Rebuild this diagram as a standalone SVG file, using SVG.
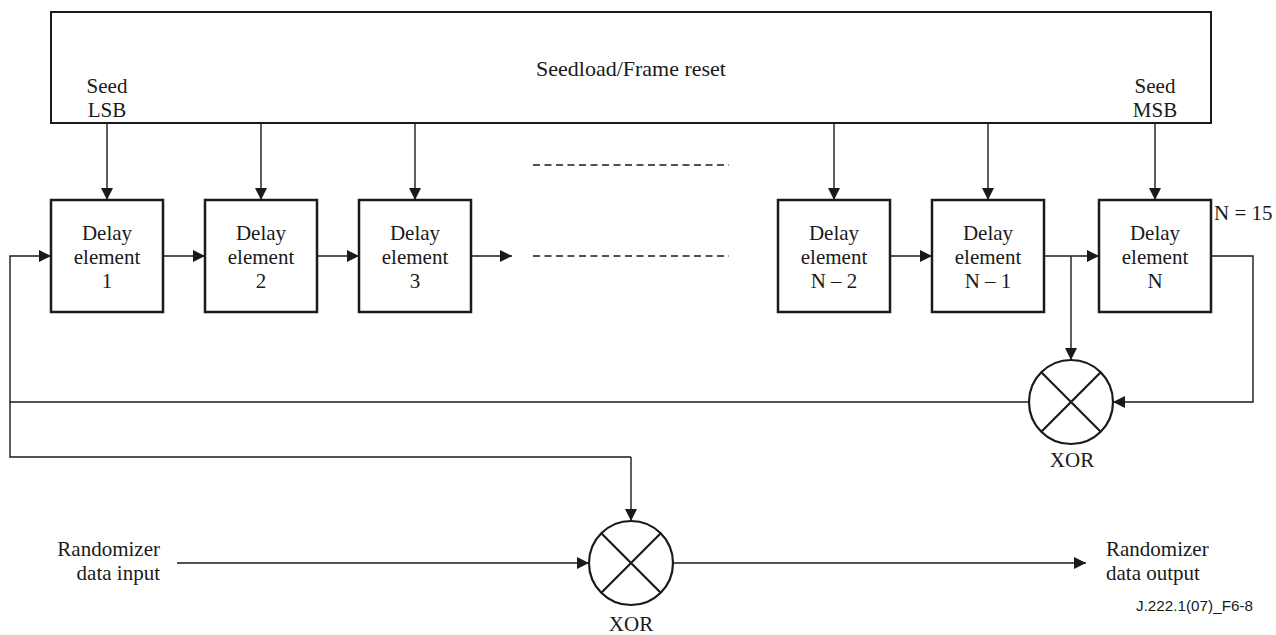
<svg xmlns="http://www.w3.org/2000/svg" width="1276" height="635" viewBox="0 0 1276 635">
<style>
.t{font-family:"Liberation Serif","Times New Roman",serif;font-size:21px;fill:#1a1a1a;text-anchor:middle}
.box{fill:none;stroke:#1a1a1a;stroke-width:2.5}
.top{fill:none;stroke:#1a1a1a;stroke-width:2}
.c{fill:none;stroke:#1a1a1a;stroke-width:1.4}
.a{fill:none;stroke:#1a1a1a;stroke-width:1.4;marker-end:url(#ah)}
.d{fill:none;stroke:#1a1a1a;stroke-width:1.3;stroke-dasharray:7 4.5}
.x{fill:none;stroke:#1a1a1a;stroke-width:2.2}
</style>
<defs>
<marker id="ah" viewBox="0 0 12 12" refX="12" refY="6" markerWidth="12" markerHeight="12" markerUnits="userSpaceOnUse" orient="auto">
<path d="M0,0 L12,6 L0,12 Z" fill="#1a1a1a"/>
</marker>
</defs>
<rect width="1276" height="635" fill="#fff"/>

<g id="seedload">
<rect class="top" x="51" y="12" width="1160" height="111"/>
<text class="t" x="631" y="76" style="font-size:22px">Seedload/Frame reset</text>
<text class="t" x="107" y="93">Seed</text>
<text class="t" x="107" y="117">LSB</text>
<text class="t" x="1155" y="93">Seed</text>
<text class="t" x="1155" y="117">MSB</text>
</g>

<g id="delay1">
<rect class="box" x="51" y="200" width="112" height="112"/>
<text class="t" x="107" y="240">Delay</text>
<text class="t" x="107" y="264">element</text>
<text class="t" x="107" y="288">1</text>
</g>
<g id="delay2">
<rect class="box" x="205" y="200" width="112" height="112"/>
<text class="t" x="261" y="240">Delay</text>
<text class="t" x="261" y="264">element</text>
<text class="t" x="261" y="288">2</text>
</g>
<g id="delay3">
<rect class="box" x="359" y="200" width="112" height="112"/>
<text class="t" x="415" y="240">Delay</text>
<text class="t" x="415" y="264">element</text>
<text class="t" x="415" y="288">3</text>
</g>
<g id="delayN2">
<rect class="box" x="778" y="200" width="112" height="112"/>
<text class="t" x="834" y="240">Delay</text>
<text class="t" x="834" y="264">element</text>
<text class="t" x="834" y="288">N – 2</text>
</g>
<g id="delayN1">
<rect class="box" x="932" y="200" width="112" height="112"/>
<text class="t" x="988" y="240">Delay</text>
<text class="t" x="988" y="264">element</text>
<text class="t" x="988" y="288">N – 1</text>
</g>
<g id="delayN">
<rect class="box" x="1099" y="200" width="112" height="112"/>
<text class="t" x="1155" y="240">Delay</text>
<text class="t" x="1155" y="264">element</text>
<text class="t" x="1155" y="288">N</text>
<text class="t" x="1214" y="220" style="text-anchor:start">N = 15</text>
</g>

<g id="xor1">
<circle class="x" cx="1071" cy="402" r="42"/>
<path class="x" d="M1041.3,372.3 L1100.7,431.7 M1100.7,372.3 L1041.3,431.7"/>
<text class="t" x="1072" y="467">XOR</text>
</g>
<g id="xor2">
<circle class="x" cx="631" cy="563" r="42"/>
<path class="x" d="M601.3,533.3 L660.7,592.7 M660.7,533.3 L601.3,592.7"/>
<text class="t" x="631" y="631">XOR</text>
</g>

<g id="io">
<text class="t" x="160" y="556" style="text-anchor:end">Randomizer</text>
<text class="t" x="160" y="580" style="text-anchor:end">data input</text>
<text class="t" x="1106" y="556" style="text-anchor:start">Randomizer</text>
<text class="t" x="1106" y="580" style="text-anchor:start">data output</text>
<text x="1136" y="611" textLength="117" lengthAdjust="spacingAndGlyphs" style="font-family:'Liberation Sans',Arial,sans-serif;font-size:15px;fill:#1a1a1a">J.222.1(07)_F6-8</text>
</g>

<g id="connectors">
<path class="a" d="M107,123 V200"/>
<path class="a" d="M261,123 V200"/>
<path class="a" d="M415,123 V200"/>
<path class="a" d="M834,123 V200"/>
<path class="a" d="M988,123 V200"/>
<path class="a" d="M1155,123 V200"/>
<path class="a" d="M163,256 H205"/>
<path class="a" d="M317,256 H359"/>
<path class="a" d="M471,256 H512"/>
<path class="a" d="M890,256 H932"/>
<path class="a" d="M1044,256 H1099"/>
<path class="d" d="M533,165 H729"/>
<path class="d" d="M533,256 H729"/>
<path class="a" d="M1071,256 V360"/>
<path class="a" d="M1211,256 H1253 V402 H1113"/>
<path class="c" d="M1029,402 H10"/>
<path class="a" d="M631,457 H10 V256 H51"/>
<path class="a" d="M631,457 V521"/>
<path class="a" d="M177,563 H589"/>
<path class="a" d="M673,563 H1086"/>
</g>
</svg>
